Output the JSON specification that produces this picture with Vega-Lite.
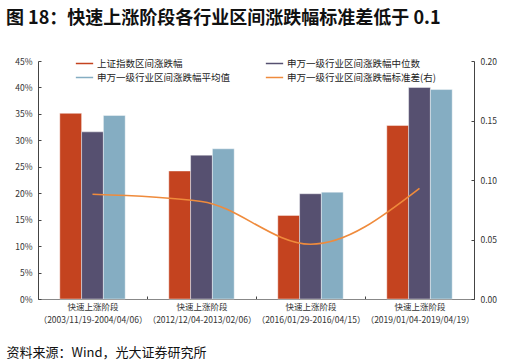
{
  "$schema": "https://vega.github.io/schema/vega-lite/v6.json",
  "autosize": {"type": "none"},
  "width": 504,
  "height": 310,
  "padding": {"left": 6, "top": 32, "right": 6, "bottom": 22},
  "title": {"text": "图 18：快速上涨阶段各行业区间涨跌幅标准差低于 0.1", "anchor": "start", "fontSize": 18, "fontWeight": "bold", "font": "Noto Sans CJK SC", "color": "#111", "offset": 4},
  "config": {"font": "Noto Sans CJK SC", "view": {"stroke": null}},
  "datasets": {
    "bars": [
      {"period": "2003/11/19-2004/04/06", "series": "上证指数区间涨跌幅", "value": 0.351},
      {"period": "2003/11/19-2004/04/06", "series": "申万一级行业区间涨跌幅中位数", "value": 0.316},
      {"period": "2003/11/19-2004/04/06", "series": "申万一级行业区间涨跌幅平均值", "value": 0.347},
      {"period": "2012/12/04-2013/02/06", "series": "上证指数区间涨跌幅", "value": 0.242},
      {"period": "2012/12/04-2013/02/06", "series": "申万一级行业区间涨跌幅中位数", "value": 0.272},
      {"period": "2012/12/04-2013/02/06", "series": "申万一级行业区间涨跌幅平均值", "value": 0.284},
      {"period": "2016/01/29-2016/04/15", "series": "上证指数区间涨跌幅", "value": 0.158},
      {"period": "2016/01/29-2016/04/15", "series": "申万一级行业区间涨跌幅中位数", "value": 0.199},
      {"period": "2016/01/29-2016/04/15", "series": "申万一级行业区间涨跌幅平均值", "value": 0.202},
      {"period": "2019/01/04-2019/04/19", "series": "上证指数区间涨跌幅", "value": 0.328},
      {"period": "2019/01/04-2019/04/19", "series": "申万一级行业区间涨跌幅中位数", "value": 0.400},
      {"period": "2019/01/04-2019/04/19", "series": "申万一级行业区间涨跌幅平均值", "value": 0.396}
    ],
    "line": [
      {"period": "2003/11/19-2004/04/06", "series": "申万一级行业区间涨跌幅标准差(右)", "std": 0.088},
      {"period": "2012/12/04-2013/02/06", "series": "申万一级行业区间涨跌幅标准差(右)", "std": 0.082},
      {"period": "2016/01/29-2016/04/15", "series": "申万一级行业区间涨跌幅标准差(右)", "std": 0.046},
      {"period": "2019/01/04-2019/04/19", "series": "申万一级行业区间涨跌幅标准差(右)", "std": 0.093}
    ]
  },
  "layer": [
    {
      "data": {"name": "bars"},
      "mark": {"type": "bar", "stroke": "white", "strokeWidth": 0.6, "strokeOpacity": 0.7},
      "encoding": {
        "x": {"field": "period", "type": "nominal", "sort": null,
          "scale": {"paddingInner": 0, "paddingOuter": 0, "range": [32, 468]},
          "axis": {"title": "资料来源：Wind，光大证券研究所", "titleFontSize": 13, "titleFontWeight": "normal", "titleColor": "#111", "titleX": 0, "titleY": 53, "titleAlign": "left", "titleBaseline": "middle", "titleAngle": 0, "titleAnchor": null,
            "offset": -43, "labelAngle": 0, "labelExpr": "datum.label ? ['快速上涨阶段', '（' + datum.label + '）'] : ''", "labelFontSize": 8.5, "labelColor": "#333", "labelLineHeight": 13, "labelPadding": 6, "tickBand": "extent", "tickSize": -3, "tickColor": "#444", "domainColor": "#888", "labelLimit": 200}},
        "xOffset": {"field": "series", "type": "nominal", "sort": ["上证指数区间涨跌幅", "申万一级行业区间涨跌幅中位数", "申万一级行业区间涨跌幅平均值"], "scale": {"paddingOuter": 1.095, "paddingInner": 0}},
        "y": {"field": "value", "type": "quantitative", "title": null,
          "scale": {"domain": [0, 0.45], "range": [267, 29], "nice": false},
          "axis": {"orient": "left", "offset": -32, "format": ".0%", "values": [-0.0813, 0, 0.05, 0.1, 0.15, 0.2, 0.25, 0.3, 0.35, 0.4, 0.45, 0.5048], "labelOverlap": false,
            "labelExpr": "(datum.value > 0.46 || datum.value < 0) ? '' : datum.label",
            "grid": true, "gridColor": "#222", "gridWidth": 1.3,
            "gridOpacity": {"condition": {"test": "datum.value > 0.46 || datum.value < 0", "value": 1}, "value": 0},
            "tickOpacity": {"condition": {"test": "datum.value > 0.46 || datum.value < 0", "value": 0}, "value": 1},
            "labelFontSize": 8.5, "labelColor": "#333", "tickSize": -3, "labelPadding": 9, "tickColor": "#444", "domainColor": "#444"}},
        "color": {"field": "series", "type": "nominal", "title": null,
          "scale": {"domain": ["上证指数区间涨跌幅", "申万一级行业区间涨跌幅中位数", "申万一级行业区间涨跌幅平均值", "申万一级行业区间涨跌幅标准差(右)"], "range": ["#C4431F", "#565070", "#85ADC2", "#EF8B3C"]},
          "legend": {"orient": "none", "legendX": 69, "legendY": 22, "direction": "horizontal", "columns": 2, "columnPadding": 31, "rowPadding": -5, "symbolType": "stroke", "symbolSize": 300, "labelFontSize": 9.5, "labelColor": "#222", "labelLimit": 300, "labelOffset": 3,
            "encode": {"symbols": {"update": {"stroke": {"signal": "scale('color', datum.value)"}, "strokeWidth": {"signal": "datum.value === '申万一级行业区间涨跌幅标准差(右)' ? 1.5 : 4"}}}}}}
      }
    },
    {
      "data": {"name": "line"},
      "mark": {"type": "line", "interpolate": "monotone", "strokeWidth": 1.6},
      "encoding": {
        "x": {"field": "period", "type": "nominal", "sort": null, "scale": {"paddingInner": 0, "paddingOuter": 0, "range": [32, 468]}, "axis": null},
        "y": {"field": "std", "type": "quantitative", "title": null,
          "scale": {"domain": [0, 0.2], "range": [267, 29], "nice": false},
          "axis": {"orient": "right", "offset": -36, "format": ".2f", "values": [0, 0.05, 0.1, 0.15, 0.2], "grid": false, "labelFontSize": 8.5, "labelColor": "#333", "tickSize": -3, "labelPadding": 9, "tickColor": "#444", "domainColor": "#444"}},
        "color": {"field": "series", "type": "nominal"}
      }
    }
  ],
  "resolve": {"scale": {"y": "independent", "x": "independent"}}
}
